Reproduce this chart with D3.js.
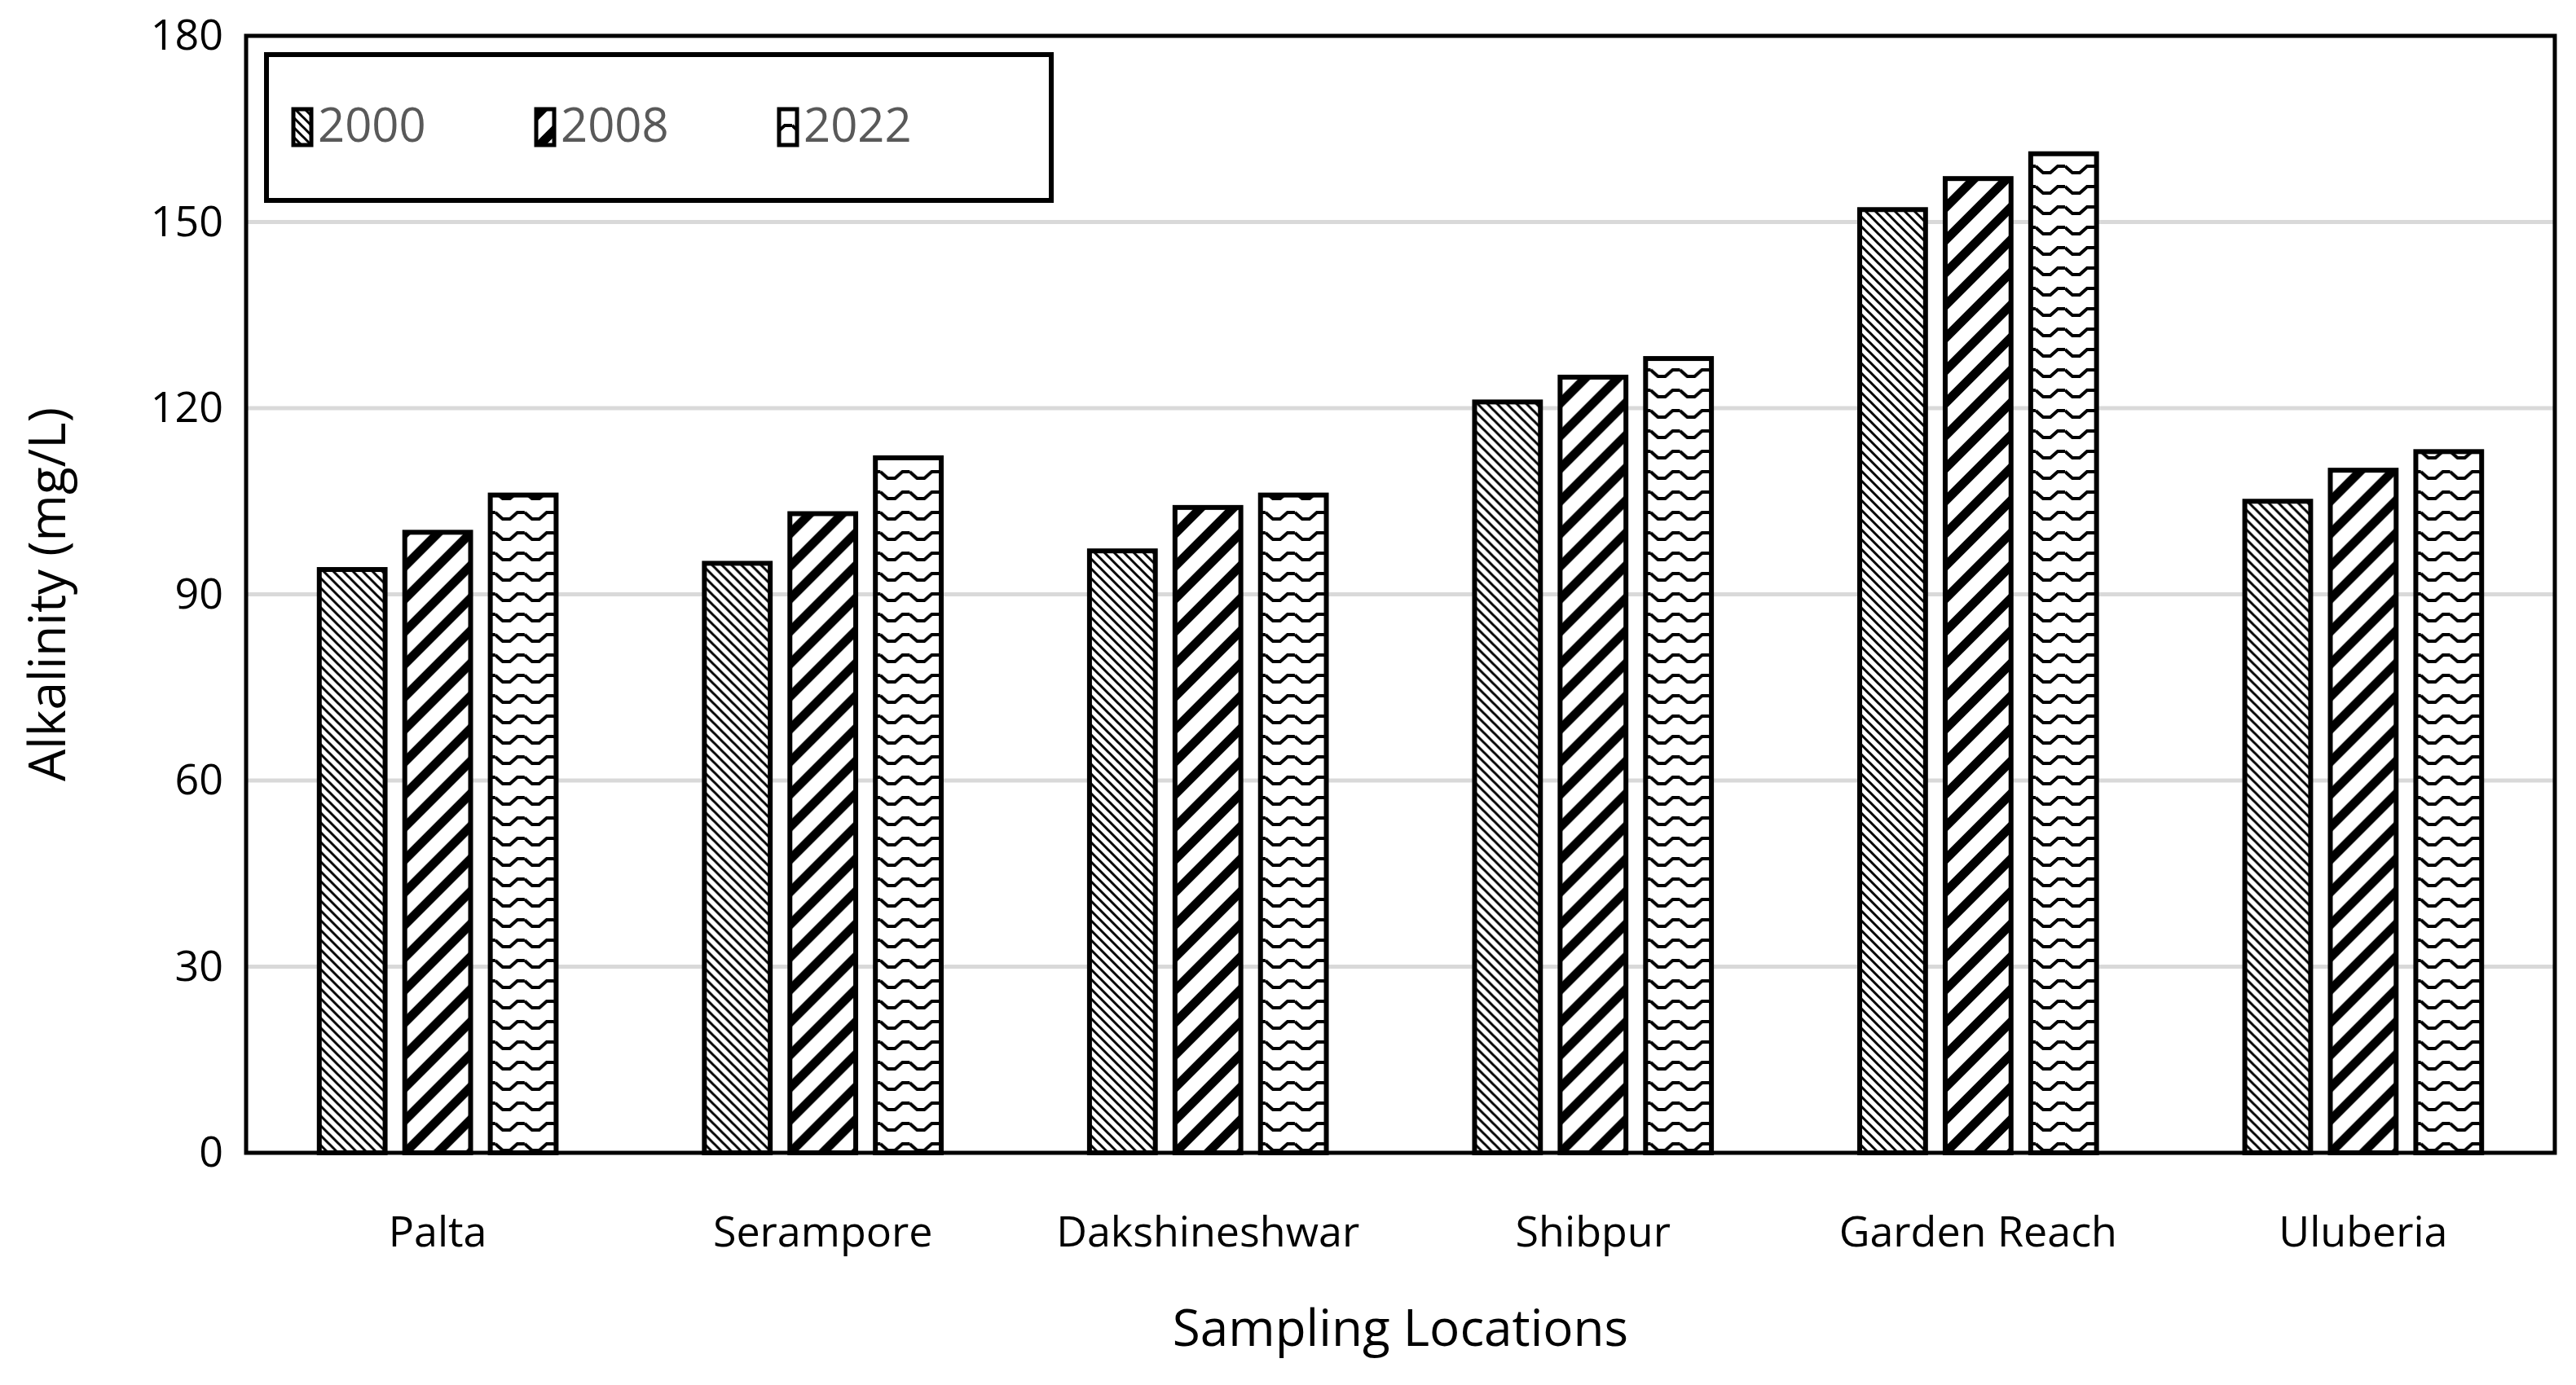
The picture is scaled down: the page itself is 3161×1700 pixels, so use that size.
<!DOCTYPE html>
<html><head><meta charset="utf-8">
<script src="https://cdn.jsdelivr.net/npm/d3@7"></script>
<style>body{margin:0;background:#fff}text{font-family:"Open Sans",sans-serif}</style>
</head><body><svg id="chart" width="3161" height="1700"></svg>
<script>
var locations = ["Palta", "Serampore", "Dakshineshwar", "Shibpur", "Garden Reach", "Uluberia"];
var years = ["2000", "2008", "2022"];
var v2000 = [94, 95, 97, 121, 152, 105];
var v2008 = [100, 103, 104, 125, 157, 110];
var v2022 = [106, 112, 106, 128, 161, 113];
var yTicks = [0, 30, 60, 90, 120, 150, 180];
var series = [v2000, v2008, v2022];

var svg = d3.select("#chart");
var m = {left: 302, right: 3135, top: 44, bottom: 1415};

// patterns
var defs = svg.append("defs");
var p0 = defs.append("pattern").attr("id", "p0").attr("patternUnits", "userSpaceOnUse")
    .attr("width", 12).attr("height", 12);
p0.append("rect").attr("width", 12).attr("height", 12).attr("fill", "#fff");
p0.append("path").attr("d", "M-3,-3L15,15M-3,9L3,15M9,-3L15,3").attr("stroke", "#000").attr("stroke-width", 3);
var p1 = defs.append("pattern").attr("id", "p1").attr("patternUnits", "userSpaceOnUse")
    .attr("width", 40).attr("height", 40);
p1.append("rect").attr("width", 40).attr("height", 40).attr("fill", "#fff");
p1.append("path").attr("d", "M-10,50L50,-10M-30,30L30,-30M10,70L70,10").attr("stroke", "#000").attr("stroke-width", 11);
var p2 = defs.append("pattern").attr("id", "p2").attr("patternUnits", "userSpaceOnUse")
    .attr("width", 36).attr("height", 25);
p2.append("rect").attr("width", 36).attr("height", 25).attr("fill", "#fff");
p2.append("path").attr("d", "M0,4L9,12L18,12L27,4L36,4").attr("fill", "none").attr("stroke", "#000").attr("stroke-width", 4);

var y = d3.scaleLinear().domain([0, 180]).range([m.bottom, m.top]);
var x0 = d3.scaleBand().domain(locations).range([m.left, m.right]).paddingInner(0.385).paddingOuter(0.19);
var x1 = d3.scaleBand().domain(years).range([0, x0.bandwidth()]).paddingInner(0.23);

// grid
svg.append("g").selectAll("line").data(yTicks.slice(1, -1)).join("line")
    .attr("x1", m.left).attr("x2", m.right).attr("y1", d => y(d)).attr("y2", d => y(d))
    .attr("stroke", "#d9d9d9").attr("stroke-width", 5);

// y axis
var yAxis = svg.append("g").attr("transform", "translate(" + m.left + ",0)")
    .call(d3.axisLeft(y).tickValues(yTicks).tickSize(0).tickPadding(28));
yAxis.select(".domain").remove();
yAxis.selectAll("text").attr("font-size", 52).attr("fill", "#000");

// bars
locations.forEach(function (loc, i) {
    var g = svg.append("g").attr("transform", "translate(" + x0(loc) + ",0)");
    g.selectAll("rect").data(years).join("rect")
        .attr("x", d => x1(d)).attr("width", x1.bandwidth())
        .attr("y", (d, k) => y(series[k][i])).attr("height", (d, k) => y(0) - y(series[k][i]))
        .attr("fill", (d, k) => "url(#p" + k + ")").attr("stroke", "#000").attr("stroke-width", 6);
});

// frame
svg.append("rect").attr("x", m.left).attr("y", m.top).attr("width", m.right - m.left).attr("height", m.bottom - m.top)
    .attr("fill", "none").attr("stroke", "#000").attr("stroke-width", 5);

// x labels
svg.append("g").selectAll("text").data(locations).join("text")
    .attr("x", d => x0(d) + x0.bandwidth() / 2).attr("y", 1530).attr("text-anchor", "middle")
    .attr("font-size", 52).text(d => d);

svg.append("text").attr("x", (m.left + m.right) / 2).attr("y", 1652).attr("text-anchor", "middle")
    .attr("font-size", 62).text("Sampling Locations");
svg.append("text").attr("transform", "translate(80," + (m.top + m.bottom) / 2 + ") rotate(-90)")
    .attr("text-anchor", "middle").attr("font-size", 62).text("Alkalinity (mg/L)");

// legend
var lg = svg.append("g");
lg.append("rect").attr("x", 327).attr("y", 67).attr("width", 963).attr("height", 179)
    .attr("fill", "#fff").attr("stroke", "#000").attr("stroke-width", 6);
years.forEach(function (yr, k) {
    var lx = 360 + k * 298;
    lg.append("rect").attr("x", lx).attr("y", 134).attr("width", 22).attr("height", 44)
        .attr("fill", "url(#p" + k + ")").attr("stroke", "#000").attr("stroke-width", 5);
    lg.append("text").attr("x", lx + 30).attr("y", 174).attr("font-size", 58).attr("fill", "#595959").text(yr);
});
</script></body></html>
